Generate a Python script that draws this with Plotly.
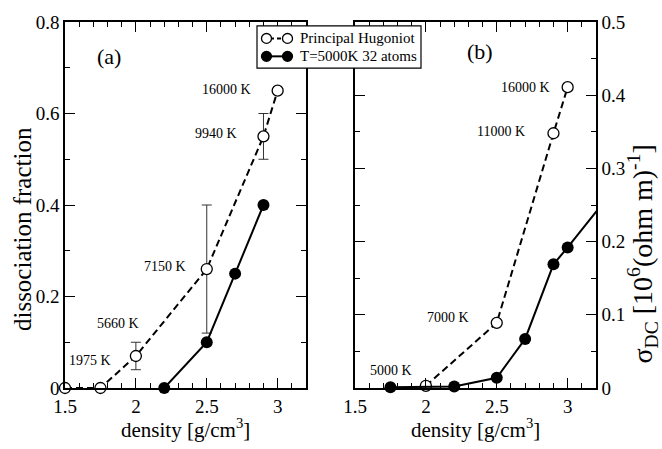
import plotly.graph_objects as go

# ---------------- data ----------------
hug_a_x = [1.5, 1.75, 2.0, 2.5, 2.9, 3.0]
hug_a_y = [0.0, 0.0, 0.07, 0.26, 0.55, 0.65]
hug_a_err = [0.0, 0.0, 0.03, 0.14, 0.05, 0.0]

md_a_x = [2.2, 2.5, 2.7, 2.9]
md_a_y = [0.0, 0.10, 0.25, 0.40]

hug_b_x = [2.0, 2.5, 2.9, 3.0]
hug_b_y = [0.003, 0.089, 0.348, 0.411]

md_b_x = [1.75, 2.2, 2.5, 2.7, 2.9, 3.0, 3.3]
md_b_y = [0.001, 0.002, 0.014, 0.067, 0.169, 0.192, 0.265]

temps_a = ["16000 K", "9940 K", "7150 K", "5660 K", "1975 K"]
temps_a_x = [2.824, 2.725, 2.368, 2.033, 1.840]
temps_a_y = [0.652, 0.557, 0.266, 0.141, 0.060]

temps_b = ["16000 K", "11000 K", "7000 K", "5000 K"]
temps_b_x = [2.891, 2.711, 2.316, 1.916]
temps_b_y = [0.411, 0.350, 0.0965, 0.024]

legend_names = ["Principal Hugoniot", "T=5000K 32 atoms"]

X_RANGE = [1.5, 3.2]
FONT = "Liberation Serif"

# ---------------- layout geometry (pixels) ----------------
W, H = 662, 449
ML, MR, MT, MB = 65, 66, 15, 61
PW = W - ML - MR
PH = H - MT - MB


def px(xpix):
    return (xpix - ML) / PW


def py(ypix):
    return (H - MB - ypix) / PH


fig = go.Figure()

dash = "7px,4px"

# panel (a)
fig.add_trace(go.Scatter(
    x=hug_a_x, y=hug_a_y, mode="lines+markers", xaxis="x", yaxis="y",
    line=dict(color="black", width=2, dash=dash),
    marker=dict(symbol="circle", size=11, color="white", line=dict(color="black", width=1.3)),
    error_y=dict(type="data", array=hug_a_err, visible=True, color="#333333", thickness=1, width=5),
    cliponaxis=False, showlegend=False))
fig.add_trace(go.Scatter(
    x=md_a_x, y=md_a_y, mode="lines+markers", xaxis="x", yaxis="y",
    line=dict(color="black", width=2),
    marker=dict(symbol="circle", size=12, color="black"),
    cliponaxis=False, showlegend=False))

# panel (b)
fig.add_trace(go.Scatter(
    x=hug_b_x, y=hug_b_y, mode="lines+markers", xaxis="x2", yaxis="y2",
    line=dict(color="black", width=2, dash=dash),
    marker=dict(symbol="circle", size=11, color="white", line=dict(color="black", width=1.3)),
    cliponaxis=False, showlegend=False))
fig.add_trace(go.Scatter(
    x=md_b_x, y=md_b_y, mode="lines", xaxis="x2", yaxis="y2",
    line=dict(color="black", width=2), cliponaxis=True, showlegend=False))
in_x = [x for x in md_b_x if X_RANGE[0] <= x <= X_RANGE[1]]
in_y = [y for x, y in zip(md_b_x, md_b_y) if X_RANGE[0] <= x <= X_RANGE[1]]
fig.add_trace(go.Scatter(
    x=in_x, y=in_y, mode="markers", xaxis="x2", yaxis="y2",
    marker=dict(symbol="circle", size=12, color="black"),
    cliponaxis=False, showlegend=False))

axis_common = dict(
    showline=True, linecolor="black", linewidth=1.5, mirror="ticks",
    ticks="inside", ticklen=10, tickwidth=1.3, tickcolor="black",
    showgrid=False, zeroline=False,
    tickfont=dict(family=FONT, size=19, color="black"),
)

xaxis_common = dict(axis_common, range=X_RANGE, tick0=1.5, dtick=0.5,
                    minor=dict(dtick=0.1, ticks="inside", ticklen=5, tickwidth=1.2, tickcolor="black"))


def ann(x, y, text, size, xref="paper", yref="paper", xanchor="center", yanchor="middle", **kw):
    return dict(x=x, y=y, xref=xref, yref=yref, text=text, showarrow=False,
                xanchor=xanchor, yanchor=yanchor,
                font=dict(family=FONT, size=size, color="black"), **kw)


annotations = []
for t, x, y in zip(temps_a, temps_a_x, temps_a_y):
    annotations.append(ann(x, y, t, 14, xref="x", yref="y", xanchor="right"))
for t, x, y in zip(temps_b, temps_b_x, temps_b_y):
    annotations.append(ann(x, y, t, 14, xref="x2", yref="y2", xanchor="right"))

# panel labels
annotations.append(ann(px(109), py(50), "(a)", 22))
annotations.append(ann(px(480), py(45), "(b)", 22))

# axis titles
annotations.append(ann(px(185.5), py(429), "density [g/cm<sup>3</sup>]", 21))
annotations.append(ann(px(475.5), py(429), "density [g/cm<sup>3</sup>]", 21))
annotations.append(ann(px(22), py(226), "dissociation fraction", 25, textangle=-90))
annotations.append(ann(px(643), py(252),
                       "σ<sub>DC</sub> [10<sup>6</sup>(ohm m)<sup>-1</sup>]", 28, textangle=-90))

# custom legend (box, sample glyphs, text)
R = 5.0
shapes = [dict(type="rect", xref="paper", yref="paper", x0=px(257), x1=px(421),
               y0=py(62), y1=py(19), line=dict(color="black", width=1.2),
               fillcolor="white", layer="above")]
rows_y = [31.7, 50.0]
for i, (name, ry) in enumerate(zip(legend_names, rows_y)):
    filled = i == 1
    shapes.append(dict(type="line", xref="paper", yref="paper", x0=px(270), x1=px(284),
                       y0=py(ry), y1=py(ry), layer="above",
                       line=dict(color="black", width=2, dash="solid" if filled else "4px,3px")))
    for cx in (266.5, 287.5):
        shapes.append(dict(type="circle", xref="paper", yref="paper",
                           x0=px(cx - R), x1=px(cx + R), y0=py(ry + R), y1=py(ry - R),
                           layer="above",
                           fillcolor="black" if filled else "white",
                           line=dict(color="black", width=1.3)))
    annotations.append(ann(px(298), py(ry), name, 15, xanchor="left"))

fig.update_layout(
    width=W, height=H,
    margin=dict(l=ML, r=MR, t=MT, b=MB),
    paper_bgcolor="white", plot_bgcolor="white",
    showlegend=False,
    xaxis=dict(xaxis_common, domain=[0, px(306)], anchor="y"),
    yaxis=dict(axis_common, domain=[0, 1], anchor="x", range=[0, 0.8], dtick=0.2, tick0=0,
               minor=dict(dtick=0.1, ticks="inside", ticklen=5, tickwidth=1.2, tickcolor="black")),
    xaxis2=dict(xaxis_common, domain=[px(355), 1], anchor="y2"),
    yaxis2=dict(axis_common, domain=[0, 1], anchor="x2", side="right", range=[0, 0.5],
                dtick=0.1, tick0=0,
                minor=dict(dtick=0.05, ticks="inside", ticklen=5, tickwidth=1.2, tickcolor="black")),
    annotations=annotations,
    shapes=shapes,
)

fig.write_html("out.html")
